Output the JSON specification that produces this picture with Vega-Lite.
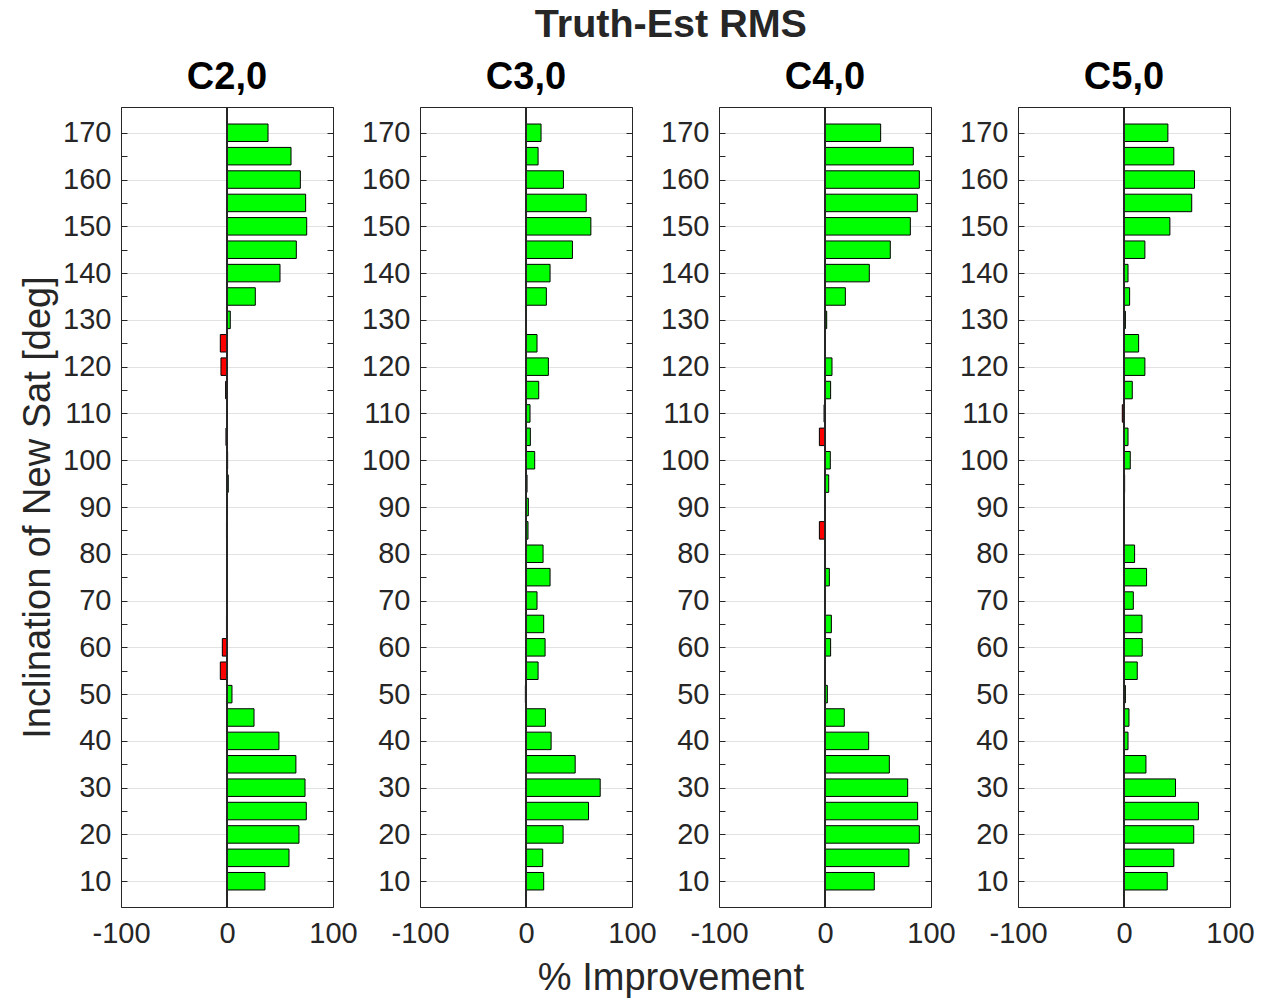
{
  "$schema": "https://vega.github.io/schema/vega-lite/v6.json",
  "background": "white",
  "padding": {"left": 19, "top": 5, "right": 5, "bottom": 5},
  "config": {
    "font": "Liberation Sans",
    "view": {"stroke": null},
    "axis": {
      "labelFont": "Liberation Sans",
      "labelFontSize": 29,
      "labelColor": "#262626",
      "tickColor": "#262626",
      "domainColor": "#262626",
      "domainWidth": 1,
      "tickWidth": 1,
      "gridColor": "#e2e2e2",
      "gridWidth": 1,
      "titleFont": "Liberation Sans",
      "titleFontSize": 38,
      "titleFontWeight": "normal",
      "titleColor": "#262626",
      "labelOverlap": false,
      "labelFlush": false
    }
  },
  "data": {
    "values": [
      {"coef": "C2,0", "inc": 10, "val": 35.8}, {"coef": "C2,0", "inc": 15, "val": 58.5}, {"coef": "C2,0", "inc": 20, "val": 67.9}, {"coef": "C2,0", "inc": 25, "val": 74.8}, {"coef": "C2,0", "inc": 30, "val": 73.6}, {"coef": "C2,0", "inc": 35, "val": 65.0}, {"coef": "C2,0", "inc": 40, "val": 49.0}, {"coef": "C2,0", "inc": 45, "val": 25.5}, {"coef": "C2,0", "inc": 50, "val": 4.7}, {"coef": "C2,0", "inc": 55, "val": -6.3}, {"coef": "C2,0", "inc": 60, "val": -4.4}, {"coef": "C2,0", "inc": 65, "val": -0.5}, {"coef": "C2,0", "inc": 70, "val": -0.3}, {"coef": "C2,0", "inc": 75, "val": -0.3}, {"coef": "C2,0", "inc": 80, "val": -0.3}, {"coef": "C2,0", "inc": 85, "val": -0.5}, {"coef": "C2,0", "inc": 90, "val": 0.5}, {"coef": "C2,0", "inc": 95, "val": 1.2}, {"coef": "C2,0", "inc": 100, "val": 0.6}, {"coef": "C2,0", "inc": 105, "val": -1.0}, {"coef": "C2,0", "inc": 110, "val": 0.3}, {"coef": "C2,0", "inc": 115, "val": -1.3}, {"coef": "C2,0", "inc": 120, "val": -5.7}, {"coef": "C2,0", "inc": 125, "val": -6.3}, {"coef": "C2,0", "inc": 130, "val": 3.1}, {"coef": "C2,0", "inc": 135, "val": 26.7}, {"coef": "C2,0", "inc": 140, "val": 50.0}, {"coef": "C2,0", "inc": 145, "val": 65.4}, {"coef": "C2,0", "inc": 150, "val": 75.2}, {"coef": "C2,0", "inc": 155, "val": 74.2}, {"coef": "C2,0", "inc": 160, "val": 69.2}, {"coef": "C2,0", "inc": 165, "val": 60.4}, {"coef": "C2,0", "inc": 170, "val": 38.7},
      {"coef": "C3,0", "inc": 10, "val": 16.7}, {"coef": "C3,0", "inc": 15, "val": 15.8}, {"coef": "C3,0", "inc": 20, "val": 35.0}, {"coef": "C3,0", "inc": 25, "val": 59.0}, {"coef": "C3,0", "inc": 30, "val": 70.0}, {"coef": "C3,0", "inc": 35, "val": 46.4}, {"coef": "C3,0", "inc": 40, "val": 23.7}, {"coef": "C3,0", "inc": 45, "val": 18.3}, {"coef": "C3,0", "inc": 50, "val": -0.6}, {"coef": "C3,0", "inc": 55, "val": 11.4}, {"coef": "C3,0", "inc": 60, "val": 18.0}, {"coef": "C3,0", "inc": 65, "val": 16.7}, {"coef": "C3,0", "inc": 70, "val": 10.4}, {"coef": "C3,0", "inc": 75, "val": 22.7}, {"coef": "C3,0", "inc": 80, "val": 16.1}, {"coef": "C3,0", "inc": 85, "val": 1.9}, {"coef": "C3,0", "inc": 90, "val": 2.2}, {"coef": "C3,0", "inc": 95, "val": 1.0}, {"coef": "C3,0", "inc": 100, "val": 8.2}, {"coef": "C3,0", "inc": 105, "val": 4.1}, {"coef": "C3,0", "inc": 110, "val": 3.8}, {"coef": "C3,0", "inc": 115, "val": 12.0}, {"coef": "C3,0", "inc": 120, "val": 21.1}, {"coef": "C3,0", "inc": 125, "val": 10.4}, {"coef": "C3,0", "inc": 130, "val": 0.3}, {"coef": "C3,0", "inc": 135, "val": 19.2}, {"coef": "C3,0", "inc": 140, "val": 22.7}, {"coef": "C3,0", "inc": 145, "val": 43.8}, {"coef": "C3,0", "inc": 150, "val": 61.2}, {"coef": "C3,0", "inc": 155, "val": 56.8}, {"coef": "C3,0", "inc": 160, "val": 35.3}, {"coef": "C3,0", "inc": 165, "val": 11.4}, {"coef": "C3,0", "inc": 170, "val": 14.2},
      {"coef": "C4,0", "inc": 10, "val": 46.5}, {"coef": "C4,0", "inc": 15, "val": 79.2}, {"coef": "C4,0", "inc": 20, "val": 89.0}, {"coef": "C4,0", "inc": 25, "val": 87.4}, {"coef": "C4,0", "inc": 30, "val": 78.0}, {"coef": "C4,0", "inc": 35, "val": 60.7}, {"coef": "C4,0", "inc": 40, "val": 41.2}, {"coef": "C4,0", "inc": 45, "val": 18.2}, {"coef": "C4,0", "inc": 50, "val": 2.2}, {"coef": "C4,0", "inc": 55, "val": 0.2}, {"coef": "C4,0", "inc": 60, "val": 5.3}, {"coef": "C4,0", "inc": 65, "val": 6.0}, {"coef": "C4,0", "inc": 70, "val": -0.3}, {"coef": "C4,0", "inc": 75, "val": 4.1}, {"coef": "C4,0", "inc": 80, "val": 0.2}, {"coef": "C4,0", "inc": 85, "val": -5.3}, {"coef": "C4,0", "inc": 90, "val": 0.3}, {"coef": "C4,0", "inc": 95, "val": 3.5}, {"coef": "C4,0", "inc": 100, "val": 5.0}, {"coef": "C4,0", "inc": 105, "val": -5.3}, {"coef": "C4,0", "inc": 110, "val": -0.9}, {"coef": "C4,0", "inc": 115, "val": 5.3}, {"coef": "C4,0", "inc": 120, "val": 6.6}, {"coef": "C4,0", "inc": 125, "val": 0.2}, {"coef": "C4,0", "inc": 130, "val": 1.6}, {"coef": "C4,0", "inc": 135, "val": 19.2}, {"coef": "C4,0", "inc": 140, "val": 41.8}, {"coef": "C4,0", "inc": 145, "val": 61.6}, {"coef": "C4,0", "inc": 150, "val": 80.5}, {"coef": "C4,0", "inc": 155, "val": 87.1}, {"coef": "C4,0", "inc": 160, "val": 89.0}, {"coef": "C4,0", "inc": 165, "val": 83.3}, {"coef": "C4,0", "inc": 170, "val": 52.5},
      {"coef": "C5,0", "inc": 10, "val": 40.8}, {"coef": "C5,0", "inc": 15, "val": 47.0}, {"coef": "C5,0", "inc": 20, "val": 65.8}, {"coef": "C5,0", "inc": 25, "val": 70.2}, {"coef": "C5,0", "inc": 30, "val": 48.6}, {"coef": "C5,0", "inc": 35, "val": 20.7}, {"coef": "C5,0", "inc": 40, "val": 3.8}, {"coef": "C5,0", "inc": 45, "val": 4.7}, {"coef": "C5,0", "inc": 50, "val": 1.3}, {"coef": "C5,0", "inc": 55, "val": 12.5}, {"coef": "C5,0", "inc": 60, "val": 17.2}, {"coef": "C5,0", "inc": 65, "val": 17.0}, {"coef": "C5,0", "inc": 70, "val": 8.8}, {"coef": "C5,0", "inc": 75, "val": 21.3}, {"coef": "C5,0", "inc": 80, "val": 10.0}, {"coef": "C5,0", "inc": 85, "val": 0.2}, {"coef": "C5,0", "inc": 90, "val": -0.3}, {"coef": "C5,0", "inc": 95, "val": 0.6}, {"coef": "C5,0", "inc": 100, "val": 5.9}, {"coef": "C5,0", "inc": 105, "val": 3.8}, {"coef": "C5,0", "inc": 110, "val": -1.6}, {"coef": "C5,0", "inc": 115, "val": 7.8}, {"coef": "C5,0", "inc": 120, "val": 19.7}, {"coef": "C5,0", "inc": 125, "val": 13.8}, {"coef": "C5,0", "inc": 130, "val": 1.3}, {"coef": "C5,0", "inc": 135, "val": 5.3}, {"coef": "C5,0", "inc": 140, "val": 3.8}, {"coef": "C5,0", "inc": 145, "val": 19.7}, {"coef": "C5,0", "inc": 150, "val": 43.3}, {"coef": "C5,0", "inc": 155, "val": 63.9}, {"coef": "C5,0", "inc": 160, "val": 66.5}, {"coef": "C5,0", "inc": 165, "val": 47.0}, {"coef": "C5,0", "inc": 170, "val": 41.4}
    ]
  },
  "title": {"text": "% Improvement", "orient": "bottom", "anchor": "middle", "fontSize": 38, "fontWeight": "normal", "color": "#262626", "font": "Liberation Sans", "offset": 12, "dx": 34},
  "vconcat": [
    {
      "title": {"text": "Truth-Est RMS", "anchor": "middle", "fontSize": 39.5, "fontWeight": "bold", "color": "#262626", "font": "Liberation Sans", "offset": 13, "dx": 34},
      "spacing": 87,
      "bounds": "flush",
      "hconcat": [
        {
          "title": {"text": "C2,0", "fontSize": 38, "fontWeight": "bold", "color": "#000000", "anchor": "middle", "offset": 10},
          "width": 212, "height": 800,
          "transform": [{"filter": "datum.coef === 'C2,0'"}],
          "layer": [
            {"mark": {"type": "bar", "orient": "horizontal", "size": 17.5, "stroke": "#000000", "strokeWidth": 1},
             "encoding": {
               "y": {"field": "inc", "type": "quantitative", "scale": {"domain": [5.56, 174.44], "nice": false, "zero": false},
                     "axis": {"orient": "left", "values": [10,15,20,25,30,35,40,45,50,55,60,65,70,75,80,85,90,95,100,105,110,115,120,125,130,135,140,145,150,155,160,165,170], "labelExpr": "datum.value % 10 === 0 ? datum.label : ''", "grid": true, "gridOpacity": {"condition": {"test": "datum.value % 10 === 0", "value": 1}, "value": 0}, "tickSize": -6, "labelPadding": 16, "title": "Inclination of New Sat [deg]", "titlePadding": 5}},
               "x": {"field": "val", "type": "quantitative", "scale": {"domain": [-100, 100], "nice": false},
                     "axis": {"orient": "bottom", "values": [-100, 0, 100], "labelExpr": "replace(datum.label, '\u2212', '-')", "grid": false, "tickSize": -6, "labelPadding": 18, "title": null}},
               "color": {"condition": {"test": "datum.val < 0", "value": "#ff0000"}, "value": "#00ff00"}
             }},
            {"mark": {"type": "rule", "color": "#262626", "strokeWidth": 1}, "encoding": {"x": {"datum": 0, "type": "quantitative", "axis": null}}},
            {"mark": {"type": "bar", "orient": "horizontal", "size": 17.5, "opacity": 0},
             "encoding": {
               "y": {"field": "inc", "type": "quantitative", "axis": {"orient": "right", "values": [10,15,20,25,30,35,40,45,50,55,60,65,70,75,80,85,90,95,100,105,110,115,120,125,130,135,140,145,150,155,160,165,170], "labels": false, "grid": false, "tickSize": -6, "title": null}},
               "x": {"field": "val", "type": "quantitative", "axis": {"orient": "top", "values": [-100, 0, 100], "labels": false, "grid": false, "tickSize": -6, "title": null}}
             }}
          ],
          "resolve": {"axis": {"x": "independent", "y": "independent"}}
        },
        {
          "title": {"text": "C3,0", "fontSize": 38, "fontWeight": "bold", "color": "#000000", "anchor": "middle", "offset": 10},
          "width": 212, "height": 800,
          "transform": [{"filter": "datum.coef === 'C3,0'"}],
          "layer": [
            {"mark": {"type": "bar", "orient": "horizontal", "size": 17.5, "stroke": "#000000", "strokeWidth": 1},
             "encoding": {
               "y": {"field": "inc", "type": "quantitative", "scale": {"domain": [5.56, 174.44], "nice": false, "zero": false},
                     "axis": {"orient": "left", "values": [10,15,20,25,30,35,40,45,50,55,60,65,70,75,80,85,90,95,100,105,110,115,120,125,130,135,140,145,150,155,160,165,170], "labelExpr": "datum.value % 10 === 0 ? datum.label : ''", "grid": true, "gridOpacity": {"condition": {"test": "datum.value % 10 === 0", "value": 1}, "value": 0}, "tickSize": -6, "labelPadding": 16, "title": null}},
               "x": {"field": "val", "type": "quantitative", "scale": {"domain": [-100, 100], "nice": false},
                     "axis": {"orient": "bottom", "values": [-100, 0, 100], "labelExpr": "replace(datum.label, '\u2212', '-')", "grid": false, "tickSize": -6, "labelPadding": 18, "title": null}},
               "color": {"condition": {"test": "datum.val < 0", "value": "#ff0000"}, "value": "#00ff00"}
             }},
            {"mark": {"type": "rule", "color": "#262626", "strokeWidth": 1}, "encoding": {"x": {"datum": 0, "type": "quantitative", "axis": null}}},
            {"mark": {"type": "bar", "orient": "horizontal", "size": 17.5, "opacity": 0},
             "encoding": {
               "y": {"field": "inc", "type": "quantitative", "axis": {"orient": "right", "values": [10,15,20,25,30,35,40,45,50,55,60,65,70,75,80,85,90,95,100,105,110,115,120,125,130,135,140,145,150,155,160,165,170], "labels": false, "grid": false, "tickSize": -6, "title": null}},
               "x": {"field": "val", "type": "quantitative", "axis": {"orient": "top", "values": [-100, 0, 100], "labels": false, "grid": false, "tickSize": -6, "title": null}}
             }}
          ],
          "resolve": {"axis": {"x": "independent", "y": "independent"}}
        },
        {
          "title": {"text": "C4,0", "fontSize": 38, "fontWeight": "bold", "color": "#000000", "anchor": "middle", "offset": 10},
          "width": 212, "height": 800,
          "transform": [{"filter": "datum.coef === 'C4,0'"}],
          "layer": [
            {"mark": {"type": "bar", "orient": "horizontal", "size": 17.5, "stroke": "#000000", "strokeWidth": 1},
             "encoding": {
               "y": {"field": "inc", "type": "quantitative", "scale": {"domain": [5.56, 174.44], "nice": false, "zero": false},
                     "axis": {"orient": "left", "values": [10,15,20,25,30,35,40,45,50,55,60,65,70,75,80,85,90,95,100,105,110,115,120,125,130,135,140,145,150,155,160,165,170], "labelExpr": "datum.value % 10 === 0 ? datum.label : ''", "grid": true, "gridOpacity": {"condition": {"test": "datum.value % 10 === 0", "value": 1}, "value": 0}, "tickSize": -6, "labelPadding": 16, "title": null}},
               "x": {"field": "val", "type": "quantitative", "scale": {"domain": [-100, 100], "nice": false},
                     "axis": {"orient": "bottom", "values": [-100, 0, 100], "labelExpr": "replace(datum.label, '\u2212', '-')", "grid": false, "tickSize": -6, "labelPadding": 18, "title": null}},
               "color": {"condition": {"test": "datum.val < 0", "value": "#ff0000"}, "value": "#00ff00"}
             }},
            {"mark": {"type": "rule", "color": "#262626", "strokeWidth": 1}, "encoding": {"x": {"datum": 0, "type": "quantitative", "axis": null}}},
            {"mark": {"type": "bar", "orient": "horizontal", "size": 17.5, "opacity": 0},
             "encoding": {
               "y": {"field": "inc", "type": "quantitative", "axis": {"orient": "right", "values": [10,15,20,25,30,35,40,45,50,55,60,65,70,75,80,85,90,95,100,105,110,115,120,125,130,135,140,145,150,155,160,165,170], "labels": false, "grid": false, "tickSize": -6, "title": null}},
               "x": {"field": "val", "type": "quantitative", "axis": {"orient": "top", "values": [-100, 0, 100], "labels": false, "grid": false, "tickSize": -6, "title": null}}
             }}
          ],
          "resolve": {"axis": {"x": "independent", "y": "independent"}}
        },
        {
          "title": {"text": "C5,0", "fontSize": 38, "fontWeight": "bold", "color": "#000000", "anchor": "middle", "offset": 10},
          "width": 212, "height": 800,
          "transform": [{"filter": "datum.coef === 'C5,0'"}],
          "layer": [
            {"mark": {"type": "bar", "orient": "horizontal", "size": 17.5, "stroke": "#000000", "strokeWidth": 1},
             "encoding": {
               "y": {"field": "inc", "type": "quantitative", "scale": {"domain": [5.56, 174.44], "nice": false, "zero": false},
                     "axis": {"orient": "left", "values": [10,15,20,25,30,35,40,45,50,55,60,65,70,75,80,85,90,95,100,105,110,115,120,125,130,135,140,145,150,155,160,165,170], "labelExpr": "datum.value % 10 === 0 ? datum.label : ''", "grid": true, "gridOpacity": {"condition": {"test": "datum.value % 10 === 0", "value": 1}, "value": 0}, "tickSize": -6, "labelPadding": 16, "title": null}},
               "x": {"field": "val", "type": "quantitative", "scale": {"domain": [-100, 100], "nice": false},
                     "axis": {"orient": "bottom", "values": [-100, 0, 100], "labelExpr": "replace(datum.label, '\u2212', '-')", "grid": false, "tickSize": -6, "labelPadding": 18, "title": null}},
               "color": {"condition": {"test": "datum.val < 0", "value": "#ff0000"}, "value": "#00ff00"}
             }},
            {"mark": {"type": "rule", "color": "#262626", "strokeWidth": 1}, "encoding": {"x": {"datum": 0, "type": "quantitative", "axis": null}}},
            {"mark": {"type": "bar", "orient": "horizontal", "size": 17.5, "opacity": 0},
             "encoding": {
               "y": {"field": "inc", "type": "quantitative", "axis": {"orient": "right", "values": [10,15,20,25,30,35,40,45,50,55,60,65,70,75,80,85,90,95,100,105,110,115,120,125,130,135,140,145,150,155,160,165,170], "labels": false, "grid": false, "tickSize": -6, "title": null}},
               "x": {"field": "val", "type": "quantitative", "axis": {"orient": "top", "values": [-100, 0, 100], "labels": false, "grid": false, "tickSize": -6, "title": null}}
             }}
          ],
          "resolve": {"axis": {"x": "independent", "y": "independent"}}
        }
      ]
    }
  ]
}
